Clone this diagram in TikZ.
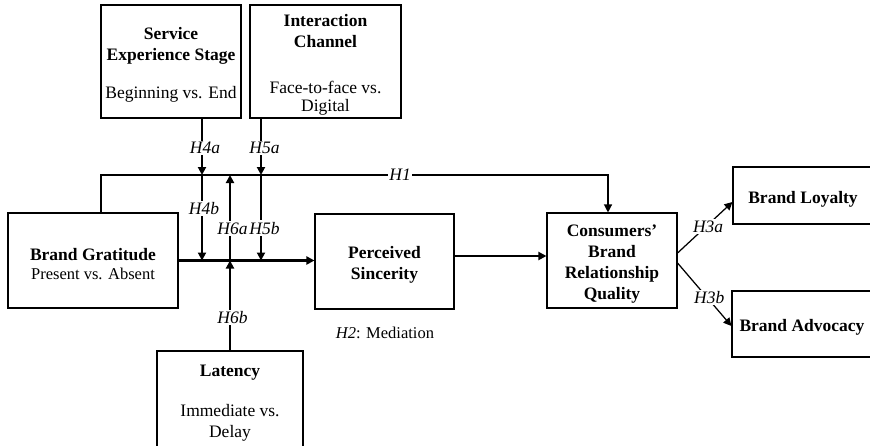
\documentclass[tikz,border=0pt]{standalone}
\usepackage{fontspec}
\setmainfont{Liberation Serif}
\usetikzlibrary{arrows.meta}
\newcommand{\tstrut}{\rule{0pt}{19pt}}
\begin{document}
\begin{tikzpicture}[x=1pt,y=-1pt,
  box/.style={draw, line width=1.1pt, inner sep=0pt, align=center,
    font=\fontsize{17.5}{21}\selectfont},
  thickline/.style={line width=2.2pt},
  thinline/.style={line width=1.25pt},
  arr/.style={-{Triangle[length=8pt,width=8pt]}},
  lbl/.style={fill=white, inner sep=1.5pt, font=\fontsize{17.5}{21}\selectfont\itshape},
  small/.style={font=\fontsize{16.5}{19}\selectfont}
]
\useasboundingbox (0,0) rectangle (870,445);
\clip (0,0) rectangle (870,445);

% boxes
\node[box, minimum width=140pt, minimum height=113pt] (ses) at (171,61.5)
  {\tstrut\textbf{Service}\\\textbf{Experience Stage}\\[17pt]Beginning vs. End};
\node[box, minimum width=151pt, minimum height=113pt] (ic) at (325.5,61.5)
  {\tstrut\textbf{Interaction}\\\textbf{Channel}\\[25pt]Face-to-face vs.\\[-3pt]Digital};
\node[box, minimum width=170pt, minimum height=95pt] (bg) at (93,260.5)
  {\tstrut\textbf{Brand Gratitude}\\[-2pt]{\fontsize{16.5}{19}\selectfont Present vs. Absent}};
\node[box, minimum width=139pt, minimum height=95pt] (ps) at (384.5,261.5)
  {\tstrut\textbf{Perceived}\\\textbf{Sincerity}};
\node[box, minimum width=130pt, minimum height=95pt] (cbrq) at (612,260.5)
  {\tstrut\textbf{Consumers’}\\\textbf{Brand}\\\textbf{Relationship}\\\textbf{Quality}};
\node[box, minimum width=140pt, minimum height=57pt] (bl) at (803,195.5)
  {\tstrut\textbf{Brand Loyalty}};
\node[box, minimum width=140pt, minimum height=66pt] (ba) at (802,324)
  {\tstrut\textbf{Brand Advocacy}};
\node[box, minimum width=146pt, minimum height=96pt] (lat) at (230,399)
  {\tstrut\textbf{Latency}\\[19pt]Immediate vs.\\Delay};

\node[small] (h2) at (385,333) {\textit{H2}: Mediation};

% coordinates
\coordinate (h4top) at (202,175);
\coordinate (h4bot) at (202,260.5);
\coordinate (h5top) at (261,175);
\coordinate (h5bot) at (261,260.5);
\coordinate (h6top) at (230,175);
\coordinate (h6bot) at (230,260.5);
\coordinate (h1l) at (101,175);
\coordinate (h1r) at (608,175);
\coordinate (psc) at (454,256);
\coordinate (h3as) at (677,253);
\coordinate (h3ae) at (732,202);
\coordinate (h3bs) at (677,263);
\coordinate (h3be) at (732,326);

% H1
\draw[thinline, arr] (bg.north -| h1l) -- (h1l) -- node[lbl, pos=0.59]{H1} (h1r) -- (cbrq.north -| h1r);

% main path
\draw[thickline, arr] (bg.east) -- (bg.east -| ps.west);
\draw[thickline, arr] (ps.east |- psc) -- (cbrq.west |- psc);

% moderators
\draw[thickline, arr] (ses.south -| h4top) -- node[lbl, pos=0.52, xshift=3pt]{H4a} (h4top);
\draw[thickline, arr] (h4top) -- node[lbl, pos=0.39, xshift=2pt]{H4b} (h4bot);
\draw[thickline, arr] (ic.south -| h5top) -- node[lbl, pos=0.52, xshift=3.5pt]{H5a} (h5top);
\draw[thickline, arr] (h5top) -- node[lbl, pos=0.62, xshift=3.5pt]{H5b} (h5bot);
\draw[thickline, arr] (lat.north) -- node[lbl, pos=0.37, xshift=2.5pt]{H6b} (h6bot);
\draw[thickline, arr] (h6bot) -- node[lbl, pos=0.376, xshift=2.5pt]{H6a} (h6top);

% outcomes
\draw[thinline, arr] (cbrq.east |- h3as) -- node[lbl, pos=0.52, xshift=2pt]{H3a} (bl.west |- h3ae);
\draw[thinline, arr] (cbrq.east |- h3bs) -- node[lbl, pos=0.55, xshift=2pt]{H3b} (ba.west |- h3be);
\end{tikzpicture}
\end{document}
